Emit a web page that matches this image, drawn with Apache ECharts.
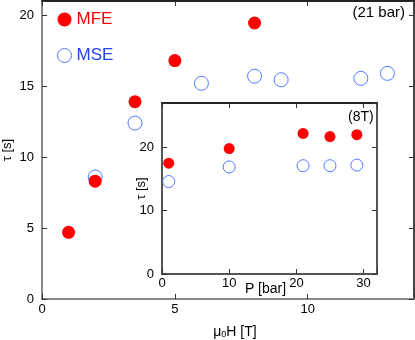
<!DOCTYPE html>
<html>
<head>
<meta charset="utf-8">
<script src="https://cdn.jsdelivr.net/npm/echarts@6/dist/echarts.min.js"></script>
<style>
    html, body { margin: 0; padding: 0; background: #fff; }
    #chart { width: 415px; height: 340px; }
</style>
</head>
<body>
<div id="chart"></div>
<script>
// 主图: 21 bar 下 tau 随磁场变化
var fieldMFE = [1, 2, 3.5, 5, 8];
var tauMFE = [4.7, 8.3, 13.9, 16.8, 19.45];
var fieldMSE = [2, 3.5, 6, 8, 9, 12, 13];
var tauMSE = [8.6, 12.4, 15.2, 15.7, 15.45, 15.55, 15.9];

// 小图: 8 T 下 tau 随压强变化
var pressure = [1, 10, 21, 25, 29];
var insetMFE = [17.5, 19.8, 22.2, 21.7, 22.0];
var insetMSE = [14.6, 16.9, 17.1, 17.1, 17.2];

var RED = '#ff0000';
var BLUE = '#5577ff';
var FONT = 'Liberation Sans';

function pairs(xs, ys) {
    return xs.map(function (x, i) { return [x, ys[i]]; });
}

function every(step) {
    return function (v) { return v % step === 0 ? String(v) : ''; };
}

function frameAxis(gridIndex, position, color, labelStep, extra) {
    var axis = {
        gridIndex: gridIndex,
        type: 'value',
        position: position,
        nameMoveOverlap: false,
        axisLine: { show: true, onZero: false, lineStyle: { color: color, width: 2 } },
        axisTick: { show: true, inside: true, length: 5, lineStyle: { color: '#333', width: 1 } },
        axisLabel: labelStep ? {
            show: true, color: '#000', fontSize: 13, fontFamily: FONT,
            formatter: every(labelStep)
        } : { show: false },
        splitLine: { show: false }
    };
    for (var k in extra) axis[k] = extra[k];
    return axis;
}

function drawChart(id) {
    var myChart = echarts.init(document.getElementById(id));

    var option = {
        animation: false,
        textStyle: { fontFamily: FONT },
        grid: [
            { left: 42, top: 1, width: 372, height: 298, outerBoundsMode: 'none' },
            { left: 162, top: 103, width: 215, height: 171, outerBoundsMode: 'none' }
        ],
        legend: {
            orient: 'vertical',
            left: 52,
            top: 6,
            itemWidth: 14,
            itemHeight: 14,
            itemGap: 19,
            selectedMode: false,
            textStyle: { fontSize: 17, fontFamily: FONT },
            data: [
                { name: 'MFE', icon: 'circle', textStyle: { color: RED },
                  itemStyle: { color: RED, borderWidth: 0 } },
                { name: 'MSE', icon: 'circle', textStyle: { color: '#2244ee' },
                  itemStyle: { color: 'rgba(255,255,255,0)', borderColor: BLUE, borderWidth: 1 } }
            ]
        },
        xAxis: [
            frameAxis(0, 'bottom', '#888', 5, {
                min: 0, max: 14, interval: 5,
                name: 'μ{sub|0}H [T]', nameLocation: 'middle', nameGap: 26,
                nameTextStyle: {
                    fontSize: 14, color: '#000', padding: [0, 0, 0, 14],
                    rich: { sub: { fontSize: 9, verticalAlign: 'bottom', padding: [4, 0, 0, 0] } }
                },
                axisLabel: { color: '#000', fontSize: 13, margin: 4, formatter: every(5) }
            }),
            frameAxis(0, 'top', '#222', 0, { min: 0, max: 14, interval: 5 }),
            frameAxis(1, 'bottom', '#555', 10, {
                min: 0, max: 32, interval: 10,
                name: 'P [bar]', nameLocation: 'middle', nameGap: 8,
                nameTextStyle: { fontSize: 14, color: '#000', padding: [0, 8, 0, 0] },
                axisLabel: { color: '#000', fontSize: 13, margin: 3, formatter: every(10) }
            }),
            frameAxis(1, 'top', '#222', 0, { min: 0, max: 32, interval: 10 })
        ],
        yAxis: [
            frameAxis(0, 'left', '#888', 5, {
                min: 0, max: 21, interval: 5,
                name: 'τ [s]', nameLocation: 'middle', nameGap: 28,
                nameTextStyle: { fontSize: 13, color: '#000' }
            }),
            frameAxis(0, 'right', '#444', 0, { min: 0, max: 21, interval: 5 }),
            frameAxis(1, 'left', '#555', 10, {
                min: 0, max: 27, interval: 10,
                name: 'τ [s]', nameLocation: 'middle', nameGap: 14,
                nameTextStyle: { fontSize: 13, color: '#000' }
            }),
            frameAxis(1, 'right', '#555', 0, { min: 0, max: 27, interval: 10 })
        ],
        graphic: [
            { type: 'text', right: 10, top: 5,
              style: { text: '(21 bar)', fontSize: 15, fontFamily: FONT, fill: '#000' } },
            { type: 'text', left: 348, top: 110,
              style: { text: '(8T)', fontSize: 14, fontFamily: FONT, fill: '#000' } }
        ],
        series: [
            {
                name: 'MSE', type: 'scatter', xAxisIndex: 0, yAxisIndex: 0,
                data: pairs(fieldMSE, tauMSE), symbolSize: 14, z: 2,
                itemStyle: { color: 'rgba(255,255,255,0)', borderColor: BLUE, borderWidth: 1, opacity: 1 },
                emphasis: { disabled: true }
            },
            {
                name: 'MFE', type: 'scatter', xAxisIndex: 0, yAxisIndex: 0,
                data: pairs(fieldMFE, tauMFE), symbolSize: 13, z: 3,
                itemStyle: { color: RED, opacity: 1 },
                emphasis: { disabled: true }
            },
            {
                name: 'MSE', type: 'scatter', xAxisIndex: 2, yAxisIndex: 2,
                data: pairs(pressure, insetMSE), symbolSize: 12, z: 2,
                itemStyle: { color: 'rgba(255,255,255,0)', borderColor: BLUE, borderWidth: 1, opacity: 1 },
                emphasis: { disabled: true }
            },
            {
                name: 'MFE', type: 'scatter', xAxisIndex: 2, yAxisIndex: 2,
                data: pairs(pressure, insetMFE), symbolSize: 11, z: 3,
                itemStyle: { color: RED, opacity: 1 },
                emphasis: { disabled: true }
            }
        ]
    };

    myChart.setOption(option);
}

drawChart('chart');
</script>
</body>
</html>
